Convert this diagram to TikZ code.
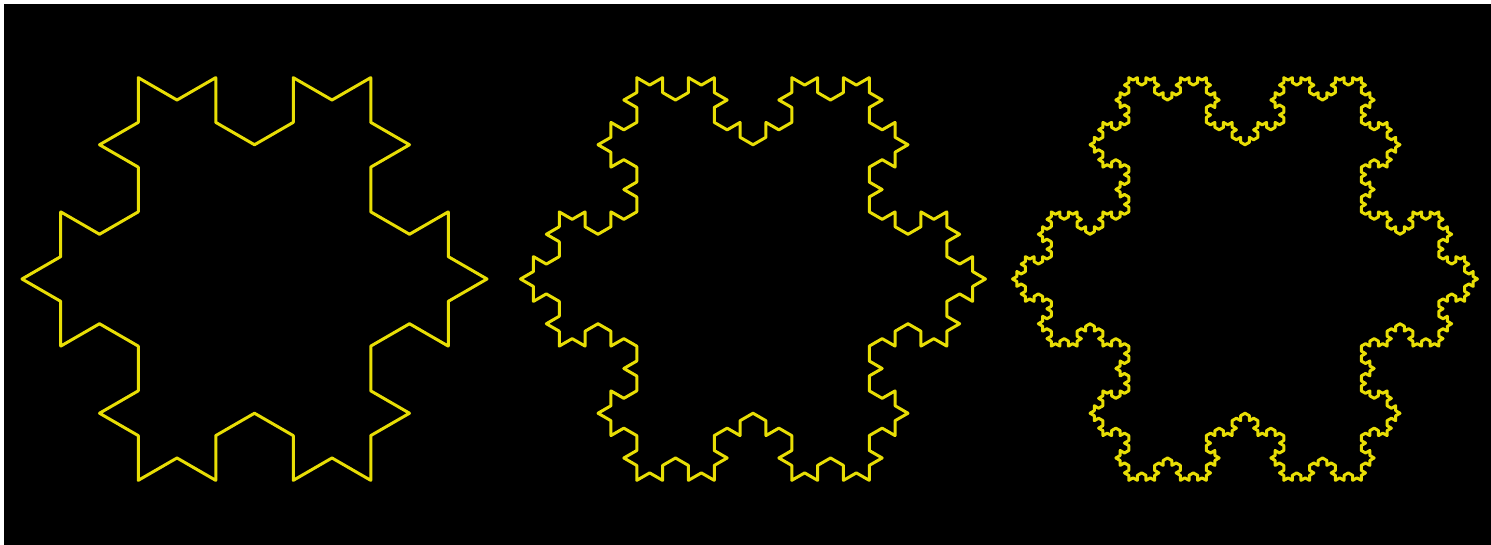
\documentclass[tikz,border=0pt]{standalone}
\usepackage{xcolor}
\usepackage{tikz}
\usetikzlibrary{lindenmayersystems}
\definecolor{flake}{HTML}{E8DE05}
\definecolor{night}{HTML}{000000}
\pgfdeclarelindenmayersystem{Koch}{\rule{F -> F-F++F-F}}
\tikzset{
  kochline/.style={flake,line width=3pt,line join=round,line cap=round}
}

\begin{document}
\begin{tikzpicture}[x=1pt,y=1pt]
\useasboundingbox (0,0) rectangle (1491,545);
\fill[white] (0,0) rectangle (1491,545);
\fill[night] (4,0) rectangle (1491,541);
% three snowflakes, orders 2 to 4
\foreach \cx/\n in {254.5/2,753/3,1245/4}{
  \pgfmathsetmacro{\len}{232.5*sqrt(3)/3^\n}
  \begin{scope}[shift={(\cx,266)}]
    \draw[kochline,shift={(300:232.5)},rotate=90,
      lindenmayer system={Koch,axiom=F++F++F,order=\n,step=\len pt,angle=60}]
      (0,0) lindenmayer system -- cycle;
  \end{scope}
}
\end{tikzpicture}
\end{document}
